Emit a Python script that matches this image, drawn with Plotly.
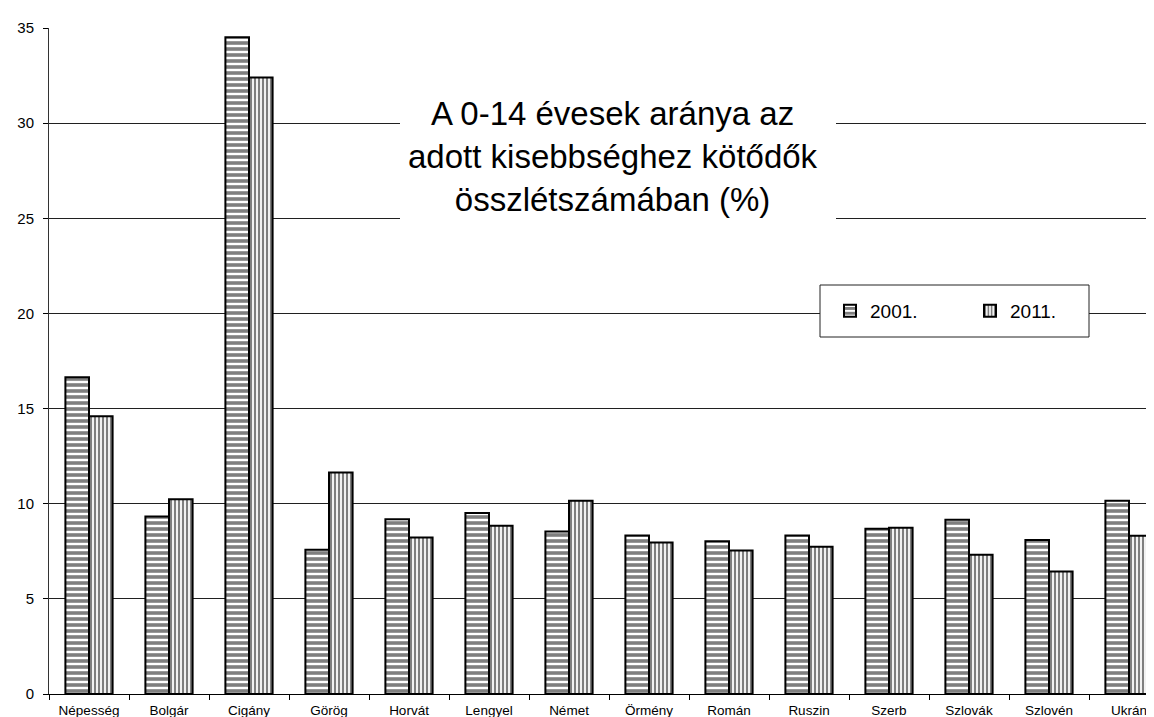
import plotly.graph_objects as go

categories = ["Népesség", "Bolgár", "Cigány", "Görög", "Horvát", "Lengyel", "Német",
              "Örmény", "Román", "Ruszin", "Szerb", "Szlovák", "Szlovén", "Ukrán"]
values_2001 = [16.64, 9.33, 34.52, 7.58, 9.19, 9.51, 8.54, 8.33, 8.03, 8.33, 8.68, 9.16, 8.09, 10.15]
values_2011 = [14.59, 10.23, 32.40, 11.64, 8.23, 8.84, 10.15, 7.96, 7.54, 7.74, 8.74, 7.32, 6.44, 8.32]
series_names = ["2001.", "2011."]
y_ticks = [0, 5, 10, 15, 20, 25, 30, 35]
title_text = "A 0-14 évesek aránya az<br>adott kisebbséghez kötődők<br>összlétszámában (%)"

FONT = "Liberation Sans, Arial, sans-serif"
W, H = 1154, 717
ML, MR, MT, MB = 41, 0, 20, 31
cat_px = 80.0
plot_w = W - ML - MR
x_end = -0.5 + plot_w / cat_px

fig = go.Figure()
fig.add_trace(go.Bar(
    x=categories, y=values_2001, name=series_names[0],
    marker=dict(color="white", line=dict(color="black", width=2),
                pattern=dict(shape="-", fgcolor="black", bgcolor="white", size=6, solidity=0.6)),
))
fig.add_trace(go.Bar(
    x=categories, y=values_2011, name=series_names[1],
    marker=dict(color="white", line=dict(color="black", width=2),
                pattern=dict(shape="|", fgcolor="black", bgcolor="white", size=4, solidity=0.55)),
))

def px_x(px):
    return (px - ML) / plot_w

def px_y(py):
    return (H - MB - py) / (H - MT - MB)

# white box behind the title (interrupts gridlines)
fig.add_shape(type="rect", xref="paper", yref="paper",
              x0=px_x(392), x1=px_x(828), y0=px_y(228), y1=px_y(72),
              fillcolor="white", line=dict(width=0), layer="above")
# legend box
fig.add_shape(type="rect", xref="paper", yref="paper",
              x0=px_x(812), x1=px_x(1081), y0=px_y(329), y1=px_y(277),
              fillcolor="white", line=dict(color="#222222", width=1), layer="above")

fig.add_annotation(text=title_text, xref="paper", yref="paper",
                   x=px_x(605), y=px_y(148), xanchor="center", yanchor="middle",
                   showarrow=False, font=dict(family=FONT, size=33, color="black"))

fig.update_layout(
    width=W, height=H,
    margin=dict(l=ML, r=MR, t=MT, b=MB, autoexpand=False),
    paper_bgcolor="white", plot_bgcolor="white",
    barmode="group", bargap=0.41, bargroupgap=0,
    font=dict(family=FONT, color="black"),
    legend=dict(orientation="h", x=px_x(822), y=px_y(303), xanchor="left", yanchor="middle",
                bgcolor="rgba(0,0,0,0)", borderwidth=0, entrywidth=95, itemwidth=30,
                font=dict(family=FONT, size=19, color="black")),
    showlegend=True,
)
fig.update_xaxes(range=[-0.5, x_end], showline=True, linecolor="black", linewidth=1,
                 ticks="outside", tickson="boundaries", ticklen=5, tickcolor="black",
                 tickfont=dict(family=FONT, size=13.5, color="black"), showgrid=False,
                 ticklabelstandoff=4, automargin=False)
fig.update_yaxes(range=[0, 35], tickvals=y_ticks, showline=True, linecolor="#333333", linewidth=1,
                 ticks="outside", ticklen=5, tickcolor="black",
                 tickfont=dict(family=FONT, size=15, color="black"),
                 showgrid=True, gridcolor="#202020", gridwidth=1, zeroline=False,
                 ticklabelstandoff=6, automargin=False)

fig.write_html("out.html")
